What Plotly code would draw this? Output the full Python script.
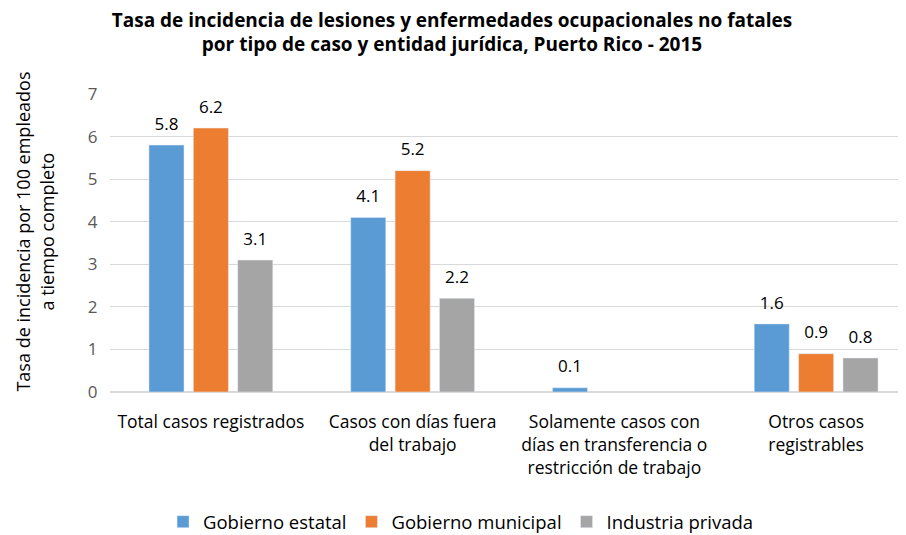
import plotly.graph_objects as go

categories = ["Total casos registrados", "Casos con días fuera<br>del trabajo",
              "Solamente casos con<br>días en transferencia o<br>restricción de trabajo",
              "Otros casos<br>registrables"]
estatal = [5.8, 4.1, 0.1, 1.6]
municipal = [6.2, 5.2, None, 0.9]
privada = [3.1, 2.2, None, 0.8]

series = [("Gobierno estatal", estatal, "#5b9bd5"),
          ("Gobierno municipal", municipal, "#ed7d31"),
          ("Industria privada", privada, "#a5a5a5")]

font_family = "Open Sans, Noto Sans, sans-serif"

# the page body adds 8px around the figure; the reference plot runs past the right edge
W, H = 920, 535

fig = go.Figure()
for i, (name, vals, color) in enumerate(series):
    fig.add_trace(go.Bar(
        name=name, x=categories, y=vals, marker_color=color,
        offsetgroup=str(i), hoverinfo="y",
    ))
# value labels: invisible points grouped like the bars, text above them
for i, (name, vals, color) in enumerate(series):
    fig.add_trace(go.Scatter(
        x=categories, y=vals, mode="markers+text", offsetgroup=str(i),
        text=[f"{v:.1f}" if v is not None else "" for v in vals],
        textposition="top center", cliponaxis=False, showlegend=False,
        marker=dict(size=16, opacity=0), hoverinfo="skip",
        textfont=dict(size=17, color="#000000", family=font_family),
    ))

fig.update_layout(
    width=W, height=H,
    plot_bgcolor="white", paper_bgcolor="white",
    barmode="group", bargap=0.34, bargroupgap=0.21,
    scattermode="group", scattergap=0.34,
    margin=dict(l=102, r=11, t=86, b=151, autoexpand=False),
    font=dict(family=font_family, color="#000000"),
    title=dict(text="<b>Tasa de incidencia de lesiones y enfermedades ocupacionales no fatales<br>"
                    "por tipo de caso y entidad jurídica, Puerto Rico - 2015</b>",
               x=444 / W, xanchor="center", y=0.965, yanchor="top", yref="container",
               font=dict(size=19, color="#000000")),
    legend=dict(orientation="h", x=0.435, xanchor="center", y=0.039, yanchor="middle",
                yref="container", font=dict(size=18.5, color="#000000"),
                traceorder="normal", itemwidth=30),
    yaxis=dict(range=[0, 7], dtick=1, showgrid=True, gridcolor="#d9d9d9",
               zeroline=True, zerolinecolor="#d9d9d9", showline=False,
               tickfont=dict(size=17, color="#595959"), ticks="outside", ticklen=8,
               tickcolor="white"),
    xaxis=dict(tickfont=dict(size=17.5, color="#000000"), showline=False,
               ticks="outside", ticklen=14, tickcolor="white"),
    annotations=[dict(text="Tasa de incidencia por 100 empleados<br>a tiempo completo",
                      textangle=-90, xref="paper", yref="paper", x=-0.0936, y=0.54,
                      xanchor="center", yanchor="middle", showarrow=False,
                      font=dict(size=18, color="#000000"))],
)

fig.write_html("out.html")
